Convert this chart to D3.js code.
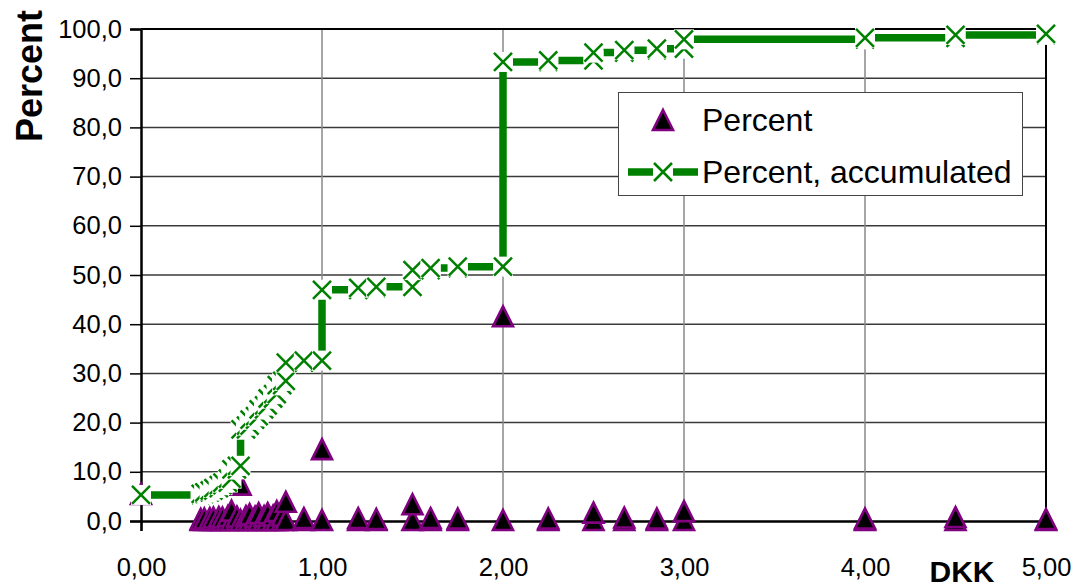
<!DOCTYPE html>
<html>
<head>
<meta charset="utf-8">
<script src="https://cdn.jsdelivr.net/npm/d3@7"></script>
<style>
  html, body { margin: 0; padding: 0; background: #fff; }
  svg { display: block; font-family: "Liberation Sans", Arial, sans-serif; }
</style>
</head>
<body>
<svg id="chart" width="1077" height="587"></svg>
<script>
// Price points (DKK)
const prices = [0.00, 0.33, 0.35, 0.38, 0.40, 0.43, 0.45, 0.48, 0.50, 0.53, 0.55,
                0.58, 0.60, 0.63, 0.65, 0.68, 0.70, 0.73, 0.75, 0.78, 0.80, 0.90,
                1.00, 1.20, 1.30, 1.50, 1.60, 1.75, 2.00, 2.25, 2.50, 2.67, 2.85,
                3.00, 4.00, 4.50, 5.00];
// Share of observations at each price
const percent = [5.3, 0.2, 0.3, 0.4, 0.5, 0.6, 0.5, 0.8, 1.9, 0.7, 7.2,
                 0.8, 1.2, 0.7, 1.4, 0.8, 1.4, 0.9, 1.8, 0.9, 3.7, 0.4,
                 14.4, 0.4, 0.2, 3.2, 0.4, 0.3, 41.4, 0.3, 1.5, 0.5, 0.3,
                 1.8, 0.3, 0.6, 0.2];
// Running total up to and including each price
const accumulated = [5.3, 5.5, 5.8, 6.2, 6.7, 7.3, 7.8, 8.6, 10.5, 11.2, 18.6,
                     19.4, 20.6, 21.3, 22.7, 23.5, 24.9, 25.8, 27.6, 28.5, 32.2, 32.6,
                     47.0, 47.4, 47.6, 51.0, 51.4, 51.7, 93.3, 93.6, 95.2, 95.7, 96.0,
                     97.9, 98.2, 98.8, 99.0];
const yTicks = [0, 10, 20, 30, 40, 50, 60, 70, 80, 90, 100];
const xTicks = [0, 1, 2, 3, 4, 5];

const svg = d3.select("#chart");
const plotL = 141, plotR = 1046, plotT = 29, plotB = 521;

const x = d3.scaleLinear().domain([0, 5]).range([plotL, plotR]);
const y = d3.scaleLinear().domain([0, 100]).range([plotB, plotT]);

const da = d3.formatLocale({ decimal: ",", thousands: ".", grouping: [3], currency: ["", " kr."] });
const fy = da.format(".1f"), fx = da.format(".2f");

// Step-shaped series: each price gets a "before" and an "after" point
const accPts = [[prices[0], accumulated[0]]];
const pctPts = [[prices[0], percent[0]]];
for (let i = 1; i < prices.length; i++) {
  accPts.push([prices[i], accumulated[i - 1]], [prices[i], accumulated[i]]);
  pctPts.push([prices[i], 0], [prices[i], percent[i]]);
}

// Gridlines
svg.append("g").selectAll("line").data(yTicks.filter(d => d > 0 && d < 100)).join("line")
  .attr("x1", plotL).attr("x2", plotR)
  .attr("y1", d => y(d)).attr("y2", d => y(d))
  .attr("stroke", "#3a3a3a").attr("stroke-width", 1.5);
svg.append("g").selectAll("line").data(xTicks.filter(d => d > 0 && d < 5)).join("line")
  .attr("x1", d => x(d)).attr("x2", d => x(d))
  .attr("y1", plotT).attr("y2", plotB)
  .attr("stroke", "#888").attr("stroke-width", 1.5);

// Plot frame (top and right)
svg.append("line").attr("x1", plotL).attr("x2", plotR).attr("y1", plotT).attr("y2", plotT)
  .attr("stroke", "#000").attr("stroke-width", 2);
svg.append("line").attr("x1", plotR).attr("x2", plotR).attr("y1", plotT).attr("y2", plotB)
  .attr("stroke", "#000").attr("stroke-width", 2);

// Axes
const yAxis = svg.append("g").attr("transform", `translate(${plotL},0)`)
  .call(d3.axisLeft(y).tickValues(yTicks).tickFormat(fy).tickSize(11).tickPadding(8));
const xAxis = svg.append("g").attr("transform", `translate(0,${plotB})`)
  .call(d3.axisBottom(x).tickValues(xTicks).tickFormat(fx).tickSize(10).tickPadding(27));
[yAxis, xAxis].forEach(g => {
  g.select(".domain").attr("stroke", "#000").attr("stroke-width", 2.5);
  g.selectAll(".tick line").attr("stroke", "#000").attr("stroke-width", 1.5);
  g.selectAll(".tick text").attr("fill", "#000")
    .style("font-family", "Liberation Sans, Arial, sans-serif").style("font-size", "25.5px");
});

// Axis titles
svg.append("text").attr("transform", "translate(42,76) rotate(-90)")
  .attr("text-anchor", "middle").style("font-size", "36px").style("font-weight", "bold")
  .text("Percent");
svg.append("text").attr("x", 962).attr("y", 582)
  .attr("text-anchor", "middle").style("font-size", "30px").style("font-weight", "bold")
  .text("DKK");

// Marker shapes
const triPath = "M0,-11L10,9L-10,9Z";
function drawTriangle(sel) {
  sel.append("path").attr("d", triPath)
    .attr("fill", "#000").attr("stroke", "#800080").attr("stroke-width", 2.6)
    .attr("stroke-linejoin", "miter");
}
function drawCross(sel) {
  sel.append("rect").attr("x", -10).attr("y", -10).attr("width", 20).attr("height", 20)
    .attr("fill", "#fff");
  sel.append("path").attr("d", "M-9,-9L9,9M9,-9L-9,9")
    .attr("stroke", "#008000").attr("stroke-width", 2.5).attr("fill", "none");
}

// Percent series (markers only)
svg.append("g").selectAll("g").data(pctPts).join("g")
  .attr("transform", d => `translate(${x(d[0])},${y(d[1])})`)
  .each(function () { drawTriangle(d3.select(this)); });

// Accumulated series: thick line, then markers
svg.append("path").datum(accPts)
  .attr("d", d3.line().x(d => x(d[0])).y(d => y(d[1])))
  .attr("fill", "none").attr("stroke", "#008000").attr("stroke-width", 7.5)
  .attr("stroke-linejoin", "miter");
svg.append("g").selectAll("g").data(accPts).join("g")
  .attr("transform", d => `translate(${x(d[0])},${y(d[1])})`)
  .each(function () { drawCross(d3.select(this)); });

// Legend
const lg = svg.append("g");
lg.append("rect").attr("x", 618.5).attr("y", 92.5).attr("width", 404).attr("height", 103)
  .attr("fill", "#fff").attr("stroke", "#444").attr("stroke-width", 1);
lg.append("g").attr("transform", "translate(663,121)").call(drawTriangle);
lg.append("text").attr("x", 702).attr("y", 131).style("font-size", "32px").text("Percent");
lg.append("line").attr("x1", 628).attr("x2", 698).attr("y1", 172).attr("y2", 172)
  .attr("stroke", "#008000").attr("stroke-width", 7.5);
lg.append("g").attr("transform", "translate(663,172)").call(drawCross);
lg.append("text").attr("x", 702).attr("y", 183).style("font-size", "32px").text("Percent, accumulated");
</script>
</body>
</html>
